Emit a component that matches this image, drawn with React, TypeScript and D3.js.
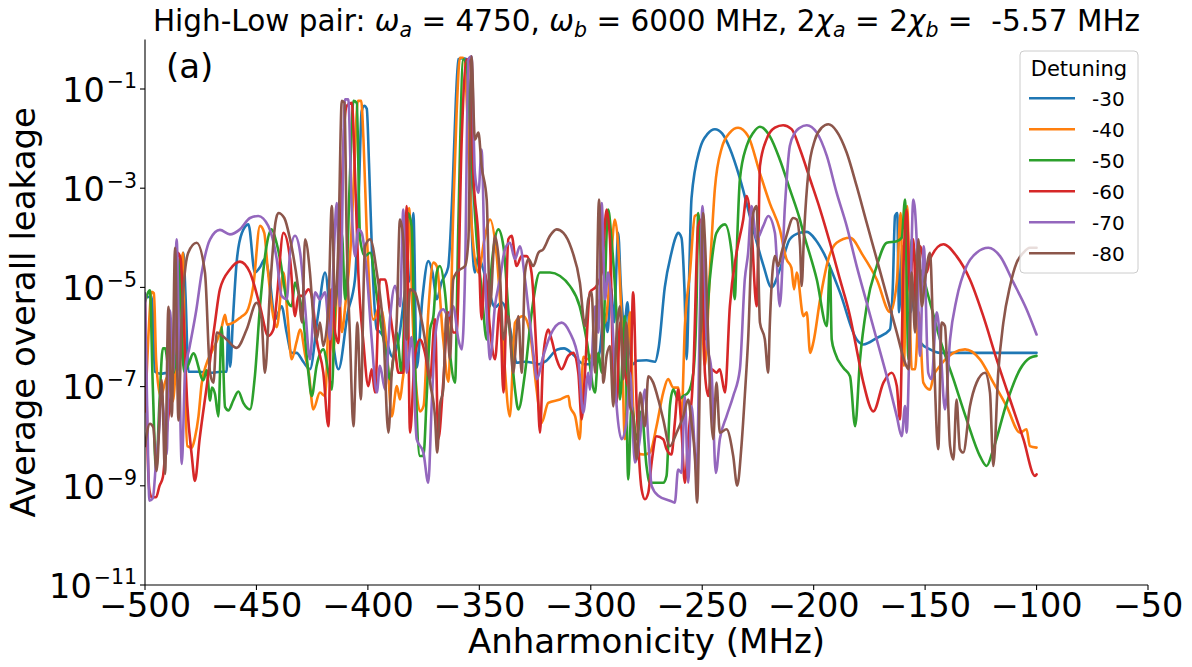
import React from 'react';
import * as d3 from 'd3';

type P = [number, number]; // [anharmonicity MHz, log10(leakage)]

const detunings = ['-30', '-40', '-50', '-60', '-70', '-80'];
const colors = ['#1f77b4', '#ff7f0e', '#2ca02c', '#d62728', '#9467bd', '#8c564b'];
const xTicks = [-500, -450, -400, -350, -300, -250, -200, -150, -100, -50];
const yTickExps = [-11, -9, -7, -5, -3, -1];

const leak30: P[] = [[-500,-5.2],[-497,-5.19],[-495.5,-6.7],[-493,-6.74],[-490,-6.72],[-486,-6.7],[-483.8,-6.3],[-482.8,-4.3],[-481.8,-5.2],[-480.5,-6.7],[-476,-6.7],[-470,-6.72],[-466,-6.7],[-463.4,-6.7],[-462.6,-5.75],[-461.8,-6.6],[-460.5,-5.6],[-458.9,-4.5],[-456.5,-3.9],[-453.6,-3.73],[-450.7,-4.7],[-448.5,-4.6],[-446.2,-4.43],[-443.9,-4.9],[-441.7,-5.65],[-438.7,-5.38],[-436.5,-5.9],[-434.2,-6.32],[-432,-6.32],[-429,-6.5],[-426,-6.65],[-422.5,-5.6],[-419.2,-4.7],[-416.5,-5.8],[-413.2,-6.65],[-409,-5.5],[-405.8,-4.84],[-404,-3.0],[-402.8,-1.45],[-401.6,-1.34],[-400.5,-1.4],[-399.5,-2.5],[-398,-4.5],[-396,-5.85],[-394.5,-5.9],[-391.6,-6.1],[-389,-6.4],[-386,-6.0],[-383,-5.0],[-381,-4.8],[-379.6,-3.5],[-378.1,-6.62],[-375.5,-5.2],[-372.9,-4.47],[-371,-4.7],[-369.1,-5.24],[-367,-4.9],[-364,-4.6],[-362,-3.0],[-360.5,-1.2],[-359.4,-0.4],[-357.5,-0.38],[-355.7,-0.4],[-354.5,-1.5],[-353.5,-3.7],[-352,-4.7],[-350.5,-4.37],[-348.5,-4.6],[-346,-5.0],[-343,-5.4],[-340,-5.3],[-337.7,-5.5],[-335.5,-6.0],[-333.3,-6.52],[-330,-6.5],[-326,-6.52],[-323.5,-6.55],[-320,-6.48],[-315,-6.25],[-312,-6.23],[-308,-6.35],[-303,-6.55],[-298,-6.55],[-296,-6.3],[-294,-5.5],[-292.5,-5.9],[-291,-5.0],[-289.5,-5.7],[-288.5,-4.6],[-287.7,-3.9],[-286.5,-5.0],[-285,-5.8],[-283.5,-5.3],[-282.4,-6.3],[-281,-6.55],[-279.4,-6.48],[-275,-6.47],[-271.2,-6.5],[-269.5,-6.2],[-266.8,-5.0],[-263.8,-4.3],[-262,-4.0],[-260.8,-3.9],[-259.3,-4.0],[-258,-5.0],[-257,-6.45],[-256,-5.0],[-254.8,-3.2],[-251,-2.2],[-247.5,-1.9],[-244.3,-1.81],[-241,-1.9],[-237.6,-2.2],[-233.1,-2.8],[-227.1,-3.83],[-222.6,-4.55],[-218.9,-5.0],[-215.2,-4.64],[-210.7,-4.03],[-206.2,-3.9],[-203,-3.88],[-199,-4.05],[-195.6,-4.3],[-188.2,-5.1],[-180.7,-6.05],[-177.7,-6.15],[-171.7,-6.02],[-165.8,-5.85],[-164.5,-5.0],[-163.5,-3.56],[-162.5,-3.5],[-161.7,-5.5],[-160.2,-4.17],[-159.5,-5.98],[-158,-4.8],[-156.5,-5.5],[-155,-5.0],[-153.5,-5.8],[-152.3,-6.1],[-147.8,-6.25],[-143.3,-6.32],[-130,-6.32],[-115,-6.32],[-100,-6.32]];

const leak40: P[] = [[-500,-7.5],[-498.5,-6.0],[-497,-5.09],[-496,-5.12],[-495,-6.47],[-493,-7.2],[-490,-6.8],[-487.5,-7.3],[-485.5,-6.0],[-483,-4.3],[-481.8,-7.4],[-481,-8.2],[-479,-8.23],[-477.6,-8.03],[-476,-7.6],[-474.6,-6.95],[-472.5,-6.55],[-470.1,-6.3],[-467.5,-6.05],[-465.6,-5.8],[-464.1,-5.55],[-463.2,-5.75],[-460,-5.7],[-457,-5.6],[-454.4,-5.5],[-451.4,-4.97],[-448.4,-3.76],[-446.5,-3.9],[-445,-4.6],[-442.4,-5.6],[-440.9,-5.8],[-437.9,-4.7],[-436,-5.6],[-434.2,-6.45],[-432,-6.1],[-430.4,-5.85],[-428,-6.4],[-426.5,-6.72],[-424.5,-7.46],[-421.5,-7.12],[-419.2,-7.19],[-417,-5.04],[-415.5,-6.32],[-414.8,-5.85],[-413.2,-4.7],[-411.7,-5.9],[-410,-5.3],[-407.5,-4.0],[-406,-2.5],[-404.5,-1.24],[-403,-1.24],[-402,-2.0],[-400.5,-3.9],[-397.5,-5.65],[-394.6,-5.38],[-391.6,-6.18],[-389.3,-7.6],[-387,-6.99],[-385.6,-7.26],[-384.5,-6.9],[-383,-6.2],[-381.5,-3.4],[-380,-5.5],[-378.5,-6.9],[-376.6,-7.5],[-375,-7.39],[-372.9,-5.5],[-370.6,-4.5],[-369.1,-4.57],[-366.2,-6.05],[-363.9,-6.9],[-361.7,-3.5],[-360.2,-1.5],[-358.7,-0.37],[-357.2,-0.37],[-354.9,-2.0],[-353.5,-3.7],[-350.5,-4.7],[-347.7,-4.03],[-345.2,-3.63],[-342.2,-4.37],[-339.2,-6.25],[-336.3,-7.6],[-334,-5.71],[-330.3,-5.58],[-327.3,-5.91],[-324.3,-7.06],[-322.1,-7.73],[-319.1,-7.33],[-313.8,-7.26],[-310,-7.19],[-309.3,-7.4],[-307,-7.6],[-304.9,-8.06],[-303.4,-6.4],[-301.1,-6.45],[-298.9,-6.25],[-295.9,-5.24],[-293.6,-5.71],[-291.4,-4.77],[-289.2,-3.63],[-287.7,-4.17],[-286.2,-5.71],[-284.7,-8.06],[-282.4,-5.5],[-281,-7.39],[-279.4,-8.33],[-276.4,-8.37],[-273.5,-8.33],[-270.5,-7.8],[-267.5,-7.12],[-265.3,-6.85],[-263,-7.02],[-260.8,-7.02],[-259.3,-7.6],[-257.8,-5.8],[-255.5,-4.7],[-253.3,-3.56],[-251.8,-3.53],[-248.8,-6.58],[-246.6,-4.7],[-244.3,-3.0],[-241.3,-2.2],[-237.6,-1.88],[-233.9,-1.78],[-229.4,-1.95],[-224.1,-2.7],[-219.7,-3.3],[-215.2,-3.83],[-212.2,-4.43],[-210,-4.6],[-208.8,-5.04],[-207.6,-4.7],[-204.6,-5.58],[-203.1,-5.5],[-201.6,-6.32],[-200.1,-6.1],[-197.1,-5.24],[-193.4,-4.43],[-189.7,-4.1],[-183.7,-4.0],[-177.7,-4.37],[-171.7,-4.84],[-165.7,-5.5],[-162.7,-4.9],[-161,-3.5],[-159.5,-6.58],[-158.1,-3.36],[-156,-6.65],[-154.5,-6.65],[-152.8,-5.5],[-150.8,-6.92],[-147.8,-7.06],[-146.3,-6.8],[-143.3,-6.58],[-137.3,-6.32],[-132.1,-6.25],[-125.4,-6.45],[-119.4,-6.92],[-113.4,-7.4],[-107.4,-7.93],[-104.5,-7.86],[-103,-8.2],[-100,-8.23]];

const leak50: P[] = [[-500,-5.3],[-497.8,-5.06],[-496.5,-7.0],[-495,-8.7],[-493.5,-7.3],[-492,-6.23],[-491,-6.23],[-489,-6.74],[-487.5,-6.74],[-486,-6.4],[-485,-5.5],[-484.3,-4.37],[-483.5,-5.8],[-482.5,-6.7],[-480.5,-6.55],[-478.3,-6.33],[-473.8,-6.87],[-472.3,-6.67],[-470.8,-7.28],[-470,-7.02],[-468.6,-7.15],[-467.1,-7.6],[-465.6,-5.8],[-464.1,-7.41],[-462.6,-7.48],[-460.4,-7.28],[-458.1,-7.1],[-455.9,-7.33],[-452.9,-7.46],[-450.7,-6.79],[-448.4,-5.38],[-445.5,-4.17],[-443.2,-3.83],[-441,-4.1],[-439.4,-4.43],[-436.4,-5.24],[-434.2,-5.38],[-432.7,-4.9],[-431.2,-5.1],[-429,-5.64],[-426.7,-6.72],[-425.2,-7.19],[-423,-6.58],[-420,-6.25],[-417.7,-6.72],[-416.2,-7.06],[-414.7,-5.38],[-413.2,-4.84],[-411.7,-3.9],[-410.2,-5.24],[-408,-2.7],[-406.5,-1.24],[-405,-1.28],[-403.5,-4.03],[-401.3,-4.37],[-399,-4.3],[-396,-5.17],[-393.8,-5.85],[-391.6,-6.38],[-390.1,-6.85],[-388.6,-6.45],[-387.1,-5.91],[-384.9,-6.72],[-382,-3.5],[-380.4,-3.76],[-378.9,-6.45],[-376.6,-8.4],[-375.1,-8.4],[-373.6,-7.19],[-372.1,-5.85],[-370.6,-5.58],[-369.1,-4.7],[-367.7,-4.57],[-365.4,-5.1],[-363.2,-6.32],[-360.9,-6.92],[-359.4,-3.7],[-357.2,-0.4],[-355.7,-0.54],[-353.5,-2.35],[-351.2,-4.03],[-349,-5.04],[-346.7,-6.05],[-344.5,-4.57],[-341.5,-3.83],[-339.2,-4.17],[-336.3,-5.91],[-334,-7.06],[-332.5,-7.46],[-329.5,-6.72],[-326.5,-5.5],[-322.8,-4.7],[-318.3,-4.7],[-313.8,-4.77],[-309.4,-4.97],[-305,-5.38],[-301.9,-6.05],[-298.1,-7.12],[-296.6,-6.32],[-295.1,-6.72],[-292.2,-3.43],[-290.7,-4.03],[-288.5,-5.5],[-286.9,-7.26],[-284.7,-5.58],[-283.2,-8.87],[-281.7,-7.39],[-279.4,-8.06],[-277.2,-7.5],[-275,-8.6],[-273.5,-8.94],[-270.5,-8.94],[-267.5,-8.94],[-266,-8.8],[-264.5,-7.39],[-263,-7.06],[-260.8,-7.26],[-258.5,-7.19],[-256.3,-7.12],[-254,-6.72],[-252.5,-5.24],[-251.8,-3.5],[-250.3,-4.7],[-248.8,-6.05],[-246.6,-4.84],[-243.6,-3.9],[-239.8,-3.73],[-236.8,-4.3],[-235.4,-5.24],[-234.6,-4.37],[-233.1,-2.82],[-230.1,-2.15],[-227.1,-1.88],[-224.1,-1.76],[-219.7,-1.95],[-215.2,-2.42],[-210.7,-3.02],[-206.2,-3.63],[-204.6,-3.9],[-198.6,-4.84],[-194.1,-5.78],[-192.7,-4.57],[-191.9,-6.05],[-190.4,-6.32],[-186.7,-6.62],[-183.7,-6.79],[-181.4,-7.8],[-179.2,-6.45],[-176.2,-5.38],[-171.7,-4.57],[-167.2,-4.1],[-162.7,-4.07],[-160.5,-4.0],[-159,-3.23],[-157.5,-6.45],[-156,-4.03],[-153.8,-4.57],[-152.3,-4.64],[-147.8,-5.3],[-143.3,-6.05],[-137.3,-6.85],[-131.4,-7.66],[-125.4,-8.4],[-122.4,-8.6],[-119.4,-8.26],[-113.4,-7.33],[-107.4,-6.65],[-103,-6.42],[-100,-6.38]];

const leak60: P[] = [[-500,-5.19],[-499,-8.0],[-498,-9.1],[-497,-9.23],[-495,-9.23],[-493.5,-9.0],[-492,-8.83],[-490,-7.8],[-488.5,-7.2],[-487,-6.3],[-485.3,-4.3],[-484,-4.43],[-482.8,-5.5],[-481,-7.39],[-479,-8.4],[-477.6,-8.9],[-475.5,-8.06],[-472.3,-6.99],[-468.6,-5.71],[-466.4,-5.04],[-461.9,-4.64],[-457.4,-4.48],[-452.9,-4.7],[-448.4,-5.38],[-444.7,-5.98],[-442.4,-5.85],[-440.9,-5.24],[-437.9,-3.9],[-434.9,-4.43],[-432.7,-5.58],[-431.2,-5.17],[-429,-5.17],[-426.7,-5.04],[-425.2,-5.17],[-423,-6.05],[-420,-6.72],[-417.7,-7.8],[-416.2,-5.04],[-414.7,-5.91],[-413.2,-6.12],[-411.7,-3.02],[-409.5,-1.34],[-407.2,-1.28],[-405.8,-2.69],[-404.3,-4.7],[-402,-6.12],[-399.8,-6.99],[-398.3,-6.65],[-396.8,-7.12],[-394.6,-4.84],[-392.3,-4.84],[-390.1,-5.5],[-387.8,-6.25],[-386.3,-6.72],[-384.1,-6.72],[-382.6,-3.36],[-381.1,-7.93],[-378.9,-6.38],[-376.6,-6.05],[-374.4,-6.32],[-372.1,-6.85],[-369.9,-5.64],[-368.4,-8.06],[-366.2,-6.92],[-363.9,-5.5],[-361.7,-5.91],[-360.2,-5.91],[-357.9,-2.0],[-355.7,-0.4],[-354.2,-0.4],[-352.7,-2.69],[-350.4,-4.03],[-349,-5.64],[-347.5,-4.7],[-345.2,-5.85],[-343,-6.45],[-340.8,-5.38],[-339.2,-7.12],[-337,-4.03],[-335.5,-3.96],[-333.3,-4.57],[-331,-4.37],[-328.8,-4.37],[-326.6,-4.7],[-324.3,-6.38],[-322.8,-7.93],[-321.3,-6.38],[-319.1,-5.85],[-317.6,-6.05],[-315.3,-6.45],[-313.1,-6.65],[-310.1,-6.38],[-307.9,-6.32],[-305.6,-6.72],[-304.1,-7.66],[-302.6,-6.72],[-300.4,-5.1],[-297.4,-4.97],[-295.1,-4.7],[-292.9,-3.43],[-291.4,-4.03],[-289.9,-6.72],[-288.4,-7.33],[-286.9,-5.71],[-285.4,-6.45],[-282.4,-7.06],[-281,-5.1],[-279.4,-7.39],[-277.2,-9.07],[-275.7,-9.27],[-274.2,-9.14],[-272.7,-8.53],[-270.5,-8.0],[-267.5,-8.06],[-266,-8.26],[-263.8,-8.37],[-262.3,-7.73],[-260.8,-7.06],[-259.3,-7.86],[-257.8,-8.94],[-256.3,-8.06],[-254,-6.72],[-251.8,-3.76],[-250.3,-3.63],[-248.8,-6.72],[-247.3,-7.19],[-245.8,-6.65],[-243.6,-6.72],[-242.1,-6.65],[-239.8,-7.12],[-237.6,-5.38],[-234.6,-4.3],[-231.6,-3.63],[-230.1,-3.16],[-228,-3.76],[-225.6,-5.38],[-224.8,-4.03],[-224.1,-2.55],[-221.2,-2.02],[-217.4,-1.78],[-213.7,-1.73],[-209.9,-1.81],[-206.1,-2.22],[-201.6,-2.82],[-197.1,-3.43],[-192.7,-4.1],[-188.2,-4.84],[-183.7,-5.58],[-180.7,-6.25],[-177.7,-6.92],[-173.2,-7.5],[-168.7,-6.92],[-165,-6.72],[-162.7,-6.99],[-161.3,-7.66],[-159.8,-4.7],[-158.3,-3.43],[-156.8,-5.1],[-155.3,-4.03],[-153.8,-5.58],[-152.3,-4.17],[-149.3,-4.7],[-147.8,-4.43],[-141.8,-4.13],[-135.9,-4.37],[-129.9,-4.84],[-123.9,-5.58],[-117.9,-6.45],[-111.9,-7.26],[-105.9,-8.06],[-100.7,-8.8],[-100,-8.77]];

const leak70: P[] = [[-500,-5.12],[-499,-7.5],[-498,-9.3],[-496.5,-9.25],[-495,-8.49],[-493.5,-7.75],[-492.8,-7.1],[-491.5,-7.6],[-490.3,-8.36],[-488.8,-5.46],[-487.3,-6.7],[-485.8,-4.03],[-484.8,-6.0],[-483.5,-8.56],[-482,-6.7],[-480,-6.2],[-477,-5.46],[-474.6,-4.72],[-470.8,-4.03],[-466.4,-3.84],[-461.9,-3.93],[-457.4,-3.83],[-452.9,-3.6],[-449.2,-3.56],[-444.7,-3.76],[-440.9,-4.43],[-438.7,-5.17],[-436.4,-5.24],[-434.9,-4.3],[-432.7,-3.96],[-430.4,-4.3],[-428.2,-5.38],[-426,-6.45],[-423.7,-5.1],[-421.5,-5.24],[-419.2,-5.1],[-417,-6.05],[-415.5,-4.57],[-414,-3.3],[-412.5,-5.38],[-410.3,-1.21],[-408.8,-1.21],[-407.3,-3.36],[-405.8,-4.37],[-404.3,-3.83],[-402.8,-3.9],[-400.5,-4.7],[-398.3,-6.05],[-396,-7.12],[-394.6,-6.58],[-392.3,-7.06],[-390.1,-5.64],[-387.8,-4.97],[-385.6,-5.38],[-384.1,-3.43],[-382.6,-6.72],[-380.4,-6.0],[-378.1,-8.06],[-375.1,-8.33],[-372.9,-8.94],[-371.4,-7.39],[-369.9,-6.05],[-367.7,-5.5],[-366.2,-5.44],[-363.9,-5.58],[-361.7,-5.38],[-359.4,-6.05],[-357.9,-6.25],[-356.4,-4.7],[-354.9,-0.4],[-353.5,-0.34],[-352,-2.69],[-350.4,-3.09],[-349,-2.22],[-347.5,-4.7],[-346,-6.05],[-345.2,-6.45],[-343,-5.38],[-340.8,-4.84],[-338.5,-4.23],[-336.3,-4.1],[-334,-4.43],[-331.8,-4.17],[-329.5,-4.84],[-327.3,-5.71],[-325.1,-6.58],[-324.3,-6.85],[-321.3,-6.38],[-318.3,-5.98],[-313.1,-5.71],[-309.4,-5.91],[-305.6,-6.45],[-303.4,-7.53],[-301.1,-6.72],[-300.4,-7.06],[-298.1,-5.38],[-296.6,-5.91],[-295.1,-3.3],[-293.6,-5.24],[-292.2,-4.7],[-290.7,-5.38],[-288.4,-7.39],[-286.2,-8.06],[-284,-7.73],[-282.4,-6.72],[-280.2,-8.53],[-278,-8.06],[-275.7,-7.06],[-274.2,-8.06],[-272.7,-9.0],[-269.7,-9.2],[-264.5,-9.3],[-262.3,-9.34],[-260.8,-8.67],[-259.3,-8.74],[-257.8,-7.19],[-256.3,-8.94],[-254.8,-7.39],[-252.5,-8.74],[-251,-5.38],[-249.9,-3.36],[-248,-6.05],[-245.8,-6.72],[-243.9,-8.74],[-242.1,-8.06],[-239.1,-7.6],[-236.1,-7.19],[-233.1,-6.65],[-230.9,-4.84],[-229.4,-4.3],[-227.9,-3.36],[-225.6,-4.03],[-222.6,-3.76],[-220.4,-3.56],[-217.4,-3.9],[-215.2,-5.38],[-212.9,-3.36],[-210.7,-2.15],[-208.4,-1.88],[-206.2,-1.78],[-203.1,-1.73],[-198.6,-1.88],[-194.1,-2.35],[-189.7,-3.09],[-185.2,-3.76],[-180.7,-4.57],[-176.2,-5.31],[-171.7,-6.05],[-167.2,-6.79],[-162.7,-7.6],[-160.5,-8.0],[-159,-7.39],[-158.3,-7.93],[-156.8,-5.71],[-155.3,-3.23],[-153.8,-4.03],[-152.3,-6.38],[-150.6,-4.17],[-148.6,-6.72],[-147.1,-6.85],[-144.8,-5.5],[-143.3,-6.05],[-141.1,-7.46],[-138.8,-6.05],[-135.9,-5.24],[-131.4,-4.57],[-126.9,-4.3],[-121.6,-4.2],[-116.4,-4.37],[-110.4,-4.9],[-104.5,-5.44],[-100,-5.95]];

const leak80: P[] = [[-500,-8.2],[-497.8,-7.75],[-496.3,-7.82],[-494.8,-8.7],[-492.5,-6.87],[-491,-8.76],[-489.5,-5.39],[-488,-7.6],[-486.5,-4.2],[-485,-7.68],[-483.5,-5.58],[-480.6,-4.3],[-476.8,-4.1],[-473.1,-4.7],[-470.8,-6.72],[-469.3,-6.92],[-467.8,-5.91],[-463.4,-6.05],[-458.9,-6.22],[-454.4,-5.85],[-449.9,-5.31],[-447.7,-5.64],[-446.2,-6.72],[-443.9,-5.04],[-441.5,-3.7],[-440.2,-3.5],[-437.5,-3.6],[-434.9,-4.03],[-431.2,-5.04],[-429.5,-5.71],[-428.2,-4.03],[-426,-4.7],[-424.5,-5.58],[-423,-6.05],[-421.5,-5.71],[-420,-6.18],[-417.7,-5.38],[-416.2,-3.36],[-414.7,-5.38],[-413.2,-4.03],[-411.7,-1.24],[-410.5,-1.28],[-409.5,-4.03],[-408,-6.05],[-406.5,-7.8],[-404.7,-5.71],[-403.2,-7.26],[-401.3,-4.17],[-399,-4.03],[-396,-4.7],[-393.1,-5.85],[-390.8,-7.93],[-389.3,-6.72],[-387.1,-5.71],[-385.6,-3.63],[-384.1,-4.03],[-382.6,-6.05],[-381.1,-5.04],[-378.9,-5.1],[-376.6,-5.5],[-374.4,-6.05],[-372.1,-6.92],[-369.9,-7.6],[-368.9,-8.33],[-367.7,-7.39],[-366.2,-7.06],[-364.7,-5.5],[-363.2,-6.45],[-361.7,-4.84],[-360.2,-4.7],[-358.7,-4.64],[-356.4,-4.57],[-354.9,-4.03],[-353.5,-0.34],[-352,-2.02],[-350.4,-1.88],[-349,-2.55],[-346.7,-3.23],[-345.2,-5.38],[-343,-3.96],[-340.8,-4.7],[-339.2,-6.05],[-337,-5.58],[-334.8,-6.72],[-332.5,-5.58],[-331,-6.72],[-329.5,-4.7],[-328,-4.43],[-325.8,-4.57],[-323.5,-4.3],[-321.3,-4.23],[-318.3,-3.96],[-315.3,-3.83],[-312.3,-3.9],[-308.6,-4.23],[-304.9,-4.9],[-302.6,-5.78],[-301.1,-5.24],[-299.6,-5.1],[-298.1,-6.72],[-296.3,-3.23],[-295.1,-5.38],[-294.4,-6.92],[-292.9,-6.38],[-291.4,-6.18],[-289.9,-7.4],[-288.4,-5.91],[-287,-5.38],[-285.4,-6.85],[-284,-5.71],[-282.4,-7.39],[-281,-7.6],[-279.4,-8.47],[-277.9,-7.12],[-275.7,-7.8],[-274.2,-6.79],[-272,-6.92],[-269.7,-7.26],[-267.5,-7.66],[-264.5,-8.2],[-261.5,-7.93],[-258.5,-7.6],[-256.3,-7.26],[-254.8,-7.73],[-253.3,-8.4],[-252.3,-9.34],[-251,-6.72],[-249.6,-3.5],[-248.8,-4.03],[-247.3,-6.05],[-245.1,-8.06],[-243.6,-6.92],[-242.1,-7.93],[-239.1,-7.86],[-236.1,-8.4],[-234.3,-9.0],[-232.4,-8.2],[-230.9,-7.19],[-229.4,-6.05],[-227.1,-3.5],[-225.6,-3.36],[-224.1,-5.71],[-221.9,-6.05],[-220.4,-6.72],[-219.7,-5.78],[-217.4,-4.37],[-215.9,-4.57],[-214.4,-4.3],[-212.2,-3.96],[-209.2,-3.6],[-207.6,-3.63],[-206.1,-4.17],[-205.4,-4.97],[-204.3,-3.9],[-202.4,-2.69],[-199.4,-2.02],[-196.4,-1.78],[-193.4,-1.71],[-189.7,-1.85],[-185.2,-2.28],[-180.7,-2.96],[-176.2,-3.7],[-171.7,-4.43],[-167.2,-5.17],[-162.7,-5.91],[-159,-6.52],[-157.5,-6.65],[-156,-4.7],[-154.5,-5.91],[-153,-4.03],[-151.5,-5.38],[-150,-4.84],[-147.8,-4.3],[-146.3,-6.05],[-144.1,-8.26],[-142.6,-5.71],[-141.1,-5.78],[-138.8,-8.2],[-137.3,-8.47],[-135.9,-7.26],[-134.4,-8.26],[-132.9,-8.33],[-129.9,-7.4],[-126.9,-6.92],[-123.1,-6.72],[-120.9,-7.12],[-119.4,-8.6],[-117.2,-6.72],[-114.9,-5.71],[-111.9,-4.97],[-108.9,-4.5],[-105.9,-4.3],[-103,-4.2],[-100,-4.2]];

const seriesData = [leak30, leak40, leak50, leak60, leak70, leak80];

const W = 1192;
const H = 667;
const L = 145, R = 1148, T = 39.4, B = 585;
const FONT = "'DejaVu Sans', sans-serif";
const NB = '\u00a0';

export default function App() {
  const x = d3.scaleLinear().domain([-500, -50]).range([L, R]);
  const y = d3.scaleLog().domain([1e-11, 1]).range([B, T]);

  const line = d3
    .line<P>()
    .x((d) => x(d[0]))
    .y((d) => y(Math.pow(10, d[1])))
    .curve(d3.curveMonotoneX);

  const clean = (arr: P[]) => {
    const s = arr.slice().sort((a, b) => a[0] - b[0]);
    return s.filter((d, i) => i === 0 || d[0] > s[i - 1][0]);
  };

  const legendX = 1020, legendY = 51, legendW = 118, legendH = 222;
  const tf = 29.5;
  const sf = 20.5;
  const sd = 5.5;

  return (
    <svg
      width={W}
      height={H}
      viewBox={`0 0 ${W} ${H}`}
      style={{ position: 'absolute', left: 0, top: 0, background: '#fff' }}
      fontFamily={FONT}
    >
      <rect x={0} y={0} width={W} height={H} fill="#fff" />
      <defs>
        <clipPath id="plotclip">
          <rect x={L} y={T - 5} width={R - L} height={B - T + 5} />
        </clipPath>
      </defs>

      {/* title */}
      <text x={(L + R) / 2} y={31} textAnchor="middle" fontSize={tf} fill="#000">
        <tspan>{'High-Low pair: '}</tspan>
        <tspan fontStyle="italic">ω</tspan>
        <tspan fontStyle="italic" fontSize={sf} dy={sd}>a</tspan>
        <tspan dy={-sd}>{NB + '= 4750, '}</tspan>
        <tspan fontStyle="italic">ω</tspan>
        <tspan fontStyle="italic" fontSize={sf} dy={sd}>b</tspan>
        <tspan dy={-sd}>{NB + '= 6000 MHz, 2'}</tspan>
        <tspan fontStyle="italic">χ</tspan>
        <tspan fontStyle="italic" fontSize={sf} dy={sd}>a</tspan>
        <tspan dy={-sd}>{NB + '= 2'}</tspan>
        <tspan fontStyle="italic">χ</tspan>
        <tspan fontStyle="italic" fontSize={sf} dy={sd}>b</tspan>
        <tspan dy={-sd}>{NB + '=' + NB + NB + '-5.57 MHz'}</tspan>
      </text>

      {/* lines */}
      <g clipPath="url(#plotclip)">
        {seriesData.map((s, i) => (
          <path
            key={i}
            d={line(clean(s)) || ''}
            fill="none"
            stroke={colors[i]}
            strokeWidth={2.6}
            strokeLinejoin="round"
            strokeLinecap="round"
          />
        ))}
      </g>

      {/* axes */}
      <line x1={L} y1={T} x2={L} y2={B} stroke="#000" strokeWidth={1.1} />
      <line x1={L} y1={B} x2={R} y2={B} stroke="#000" strokeWidth={1.1} />

      {xTicks.map((t) => (
        <g key={t}>
          <line x1={x(t)} y1={B} x2={x(t)} y2={B + 5} stroke="#000" strokeWidth={1.1} />
          <text x={x(t)} y={617} textAnchor="middle" fontSize={33.5} fill="#000">
            {'\u2212' + Math.abs(t)}
          </text>
        </g>
      ))}

      {yTickExps.map((e) => {
        const yy = y(Math.pow(10, e));
        return (
          <g key={e}>
            <line x1={L - 5} y1={yy} x2={L} y2={yy} stroke="#000" strokeWidth={1.1} />
            <text x={137} y={yy + 12.8} textAnchor="end" fontSize={33.5} fill="#000">
              10
              <tspan fontSize={20.5} dy={-13.5} dx={2}>{'\u2212' + Math.abs(e)}</tspan>
            </text>
          </g>
        );
      })}

      {/* axis labels */}
      <text x={(L + R) / 2} y={653} textAnchor="middle" fontSize={34} fill="#000">
        Anharmonicity (MHz)
      </text>
      <text
        transform={`translate(35, ${(T + B) / 2}) rotate(-90)`}
        textAnchor="middle"
        fontSize={34}
        fill="#000"
      >
        Average overall leakage
      </text>

      {/* panel label */}
      <text x={166} y={78} fontSize={34} fill="#000">(a)</text>

      {/* legend */}
      <rect
        x={legendX}
        y={legendY}
        width={legendW}
        height={legendH}
        rx={4}
        fill="#fff"
        fillOpacity={0.8}
        stroke="#cccccc"
        strokeWidth={1}
      />
      <text x={legendX + legendW / 2} y={76} textAnchor="middle" fontSize={21} fill="#000">
        Detuning
      </text>
      {detunings.map((d, i) => {
        const yy = 98.3 + i * 31;
        return (
          <g key={d}>
            <line x1={1029} y1={yy} x2={1075} y2={yy} stroke={colors[i]} strokeWidth={2.6} />
            <text x={1092} y={yy + 7.5} fontSize={20} fill="#000">{d}</text>
          </g>
        );
      })}
    </svg>
  );
}
